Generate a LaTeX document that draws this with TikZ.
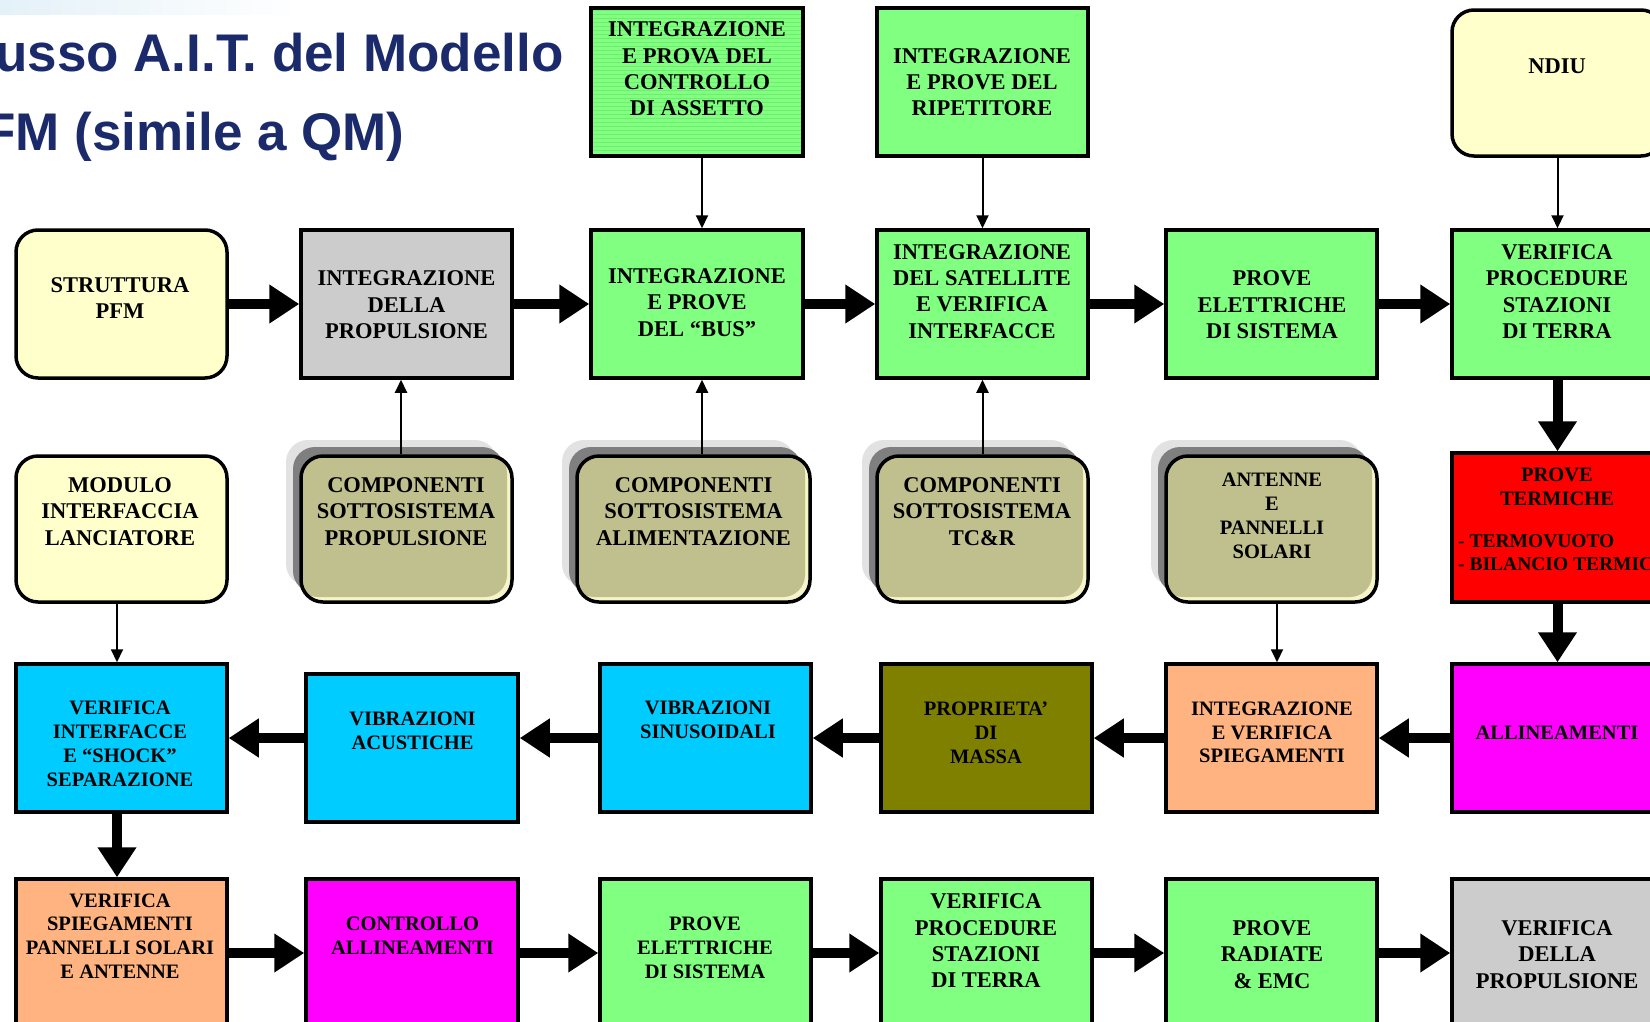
\documentclass[tikz,border=0pt]{standalone}
\usepackage{fontspec}
\setmainfont{Liberation Serif}
\newfontfamily\titlefont{Liberation Sans}
\usetikzlibrary{arrows.meta,shadows}
\definecolor{lyel}{HTML}{FFFFCC}
\definecolor{bevel}{HTML}{F6F4C8}
\definecolor{lgray}{HTML}{CCCCCC}
\definecolor{lgreen}{HTML}{80FF80}
\definecolor{stripe}{HTML}{70EC70}
\definecolor{khaki}{HTML}{C0BF8E}
\definecolor{cyanb}{HTML}{00CCFF}
\definecolor{olivb}{HTML}{808000}
\definecolor{peach}{HTML}{FFB380}
\definecolor{magb}{HTML}{FF00FF}
\definecolor{navy}{HTML}{1B2A6B}
\definecolor{shdark}{HTML}{7F7F7F}
\definecolor{shlight}{HTML}{E2E2E2}
\definecolor{haze}{HTML}{E4F1F8}
\begin{document}
\begin{tikzpicture}[x=1pt,y=-1pt,
  bx/.style={draw=black, line width=3.5pt, inner sep=0pt, minimum width=211pt, minimum height=148pt},
  rbx/.style={bx, rounded corners=22pt},
  cbx/.style={rbx, fill=khaki, minimum height=146pt,
     general shadow={fill=shlight, shadow xshift=-15pt, shadow yshift=16pt},
     general shadow={fill=shdark, shadow xshift=-8pt, shadow yshift=9pt},
     path picture={\fill[bevel] (path picture bounding box.south west) rectangle (path picture bounding box.north east);
       \fill[khaki, rounded corners=22pt] ([shift={(-5pt,5pt)}]path picture bounding box.south west) rectangle ([shift={(-5pt,5pt)}]path picture bounding box.north east);}},
  bigarr/.style={line width=10pt, -{Triangle[length=30pt,width=37pt]}},
  smallarr/.style={line width=2pt, -{Triangle[length=13pt,width=12pt]}},
  t1/.style={font=\bfseries\fontsize{22.5}{26.3}\selectfont, align=center, inner sep=0pt},
  t2/.style={font=\bfseries\fontsize{20.5}{23.8}\selectfont, align=center, inner sep=0pt},
  t3/.style={font=\bfseries\fontsize{19.5}{23}\selectfont, align=left, inner sep=0pt},
  ttl/.style={font=\titlefont\bfseries\fontsize{53}{60}\selectfont, text=navy, anchor=base west, inner sep=0pt}]
\useasboundingbox (0,0) rectangle (1650,1021);
\clip (0,0) rectangle (1650,1021);
\shade[left color=haze, right color=white] (0,0) rectangle (300,14);

% title
\node[ttl] (title1) at (-52,71) {Flusso A.I.T. del Modello};
\node[ttl] (title2) at (-52,150) {PFM (simile a QM)};

% ---------- top row
\node[bx, fill=lgreen, minimum width=212pt,
  path picture={\foreach \k in {2,6,...,150} \draw[stripe, line width=0.8pt]
     ([yshift=-\k pt]path picture bounding box.north west) -- ([yshift=-\k pt]path picture bounding box.north east);}]
  (tA) at (697,82) {};
\node[t1] (tAt) at (697,69) {INTEGRAZIONE\\E PROVA DEL\\CONTROLLO\\DI ASSETTO};
\node[bx, fill=lgreen] (tR) at (982.5,82) {};
\node[t1] (tRt) at (982,82) {INTEGRAZIONE\\E PROVE DEL\\RIPETITORE};
\node[rbx, fill=lyel, minimum height=146pt] (tN) at (1557.5,83) {};
\node[t1] (tNt) at (1557,66) {NDIU};

% ---------- row 1
\node[rbx, fill=lyel] (r1a) at (121.5,304) {};
\node[t1] (r1at) at (120,298) {STRUTTURA\\PFM};
\node[bx, fill=lgray] (r1b) at (406.5,304) {};
\node[t1] (r1bt) at (406.5,304.7) {INTEGRAZIONE\\DELLA\\PROPULSIONE};
\node[bx, fill=lgreen, minimum width=212pt] (r1c) at (697,304) {};
\node[t1] (r1ct) at (697,302.5) {INTEGRAZIONE\\E PROVE\\DEL “BUS”};
\node[bx, fill=lgreen] (r1d) at (982.5,304) {};
\node[t1] (r1dt) at (982,291.5) {INTEGRAZIONE\\DEL SATELLITE\\E VERIFICA\\INTERFACCE};
\node[bx, fill=lgreen] (r1e) at (1271.5,304) {};
\node[t1] (r1et) at (1272,304.7) {PROVE\\ELETTRICHE\\DI SISTEMA};
\node[bx, fill=lgreen] (r1f) at (1557.5,304) {};
\node[t1] (r1ft) at (1557,291.5) {VERIFICA\\PROCEDURE\\STAZIONI\\DI TERRA};

% ---------- row 2
\node[rbx, fill=lyel, minimum height=146pt] (r2a) at (121.5,529) {};
\node[t1] (r2at) at (120,511.4) {MODULO\\INTERFACCIA\\LANCIATORE};
\node[cbx] (r2b) at (406.5,529) {};
\node[t1] (r2bt) at (406,511.4) {COMPONENTI\\SOTTOSISTEMA\\PROPULSIONE};
\node[cbx, minimum width=233pt] (r2c) at (693.5,529) {};
\node[t1] (r2ct) at (693.5,511.4) {COMPONENTI\\SOTTOSISTEMA\\ALIMENTAZIONE};
\node[cbx] (r2d) at (982.5,529) {};
\node[t1] (r2dt) at (982,511.4) {COMPONENTI\\SOTTOSISTEMA\\TC\&R};
\node[cbx] (r2e) at (1271.5,529) {};
\node[t2] (r2et) at (1272,516) {ANTENNE\\E\\PANNELLI\\SOLARI};
\node[bx, fill=red, minimum height=149pt] (r2f) at (1557.5,527.5) {};
\node[t2] (r2ft) at (1557,486.7) {PROVE\\TERMICHE};
\node[t3, anchor=west] (r2fl) at (1458,552.5) {- TERMOVUOTO\\- BILANCIO TERMICO};

% ---------- row 3
\node[bx, fill=cyanb] (r3a) at (121.5,738) {};
\node[t2] (r3at) at (120,744) {VERIFICA\\INTERFACCE\\E “SHOCK”\\SEPARAZIONE};
\node[bx, fill=cyanb, minimum width=212pt] (r3b) at (412,748) {};
\node[t2] (r3bt) at (412.5,731) {VIBRAZIONI\\ACUSTICHE};
\node[bx, fill=cyanb] (r3c) at (705.5,738) {};
\node[t2] (r3ct) at (708,720) {VIBRAZIONI\\SINUSOIDALI};
\node[bx, fill=olivb] (r3d) at (986.5,738) {};
\node[t2] (r3dt) at (986,732.5) {PROPRIETA’\\DI\\MASSA};
\node[bx, fill=peach] (r3e) at (1271.5,738) {};
\node[t2] (r3et) at (1272,732.5) {INTEGRAZIONE\\E VERIFICA\\SPIEGAMENTI};
\node[bx, fill=magb] (r3f) at (1557.5,738) {};
\node[t2] (r3ft) at (1557,732.5) {ALLINEAMENTI};

% ---------- row 4
\node[bx, fill=peach] (r4a) at (121.5,953) {};
\node[t2] (r4at) at (120,936) {VERIFICA\\SPIEGAMENTI\\PANNELLI SOLARI\\E ANTENNE};
\node[bx, fill=magb, minimum width=212pt] (r4b) at (412,953) {};
\node[t2] (r4bt) at (412.5,936) {CONTROLLO\\ALLINEAMENTI};
\node[bx, fill=lgreen] (r4c) at (705.5,953) {};
\node[t2] (r4ct) at (705,947.6) {PROVE\\ELETTRICHE\\DI SISTEMA};
\node[bx, fill=lgreen] (r4d) at (986.5,953) {};
\node[t1] (r4dt) at (986,941) {VERIFICA\\PROCEDURE\\STAZIONI\\DI TERRA};
\node[bx, fill=lgreen] (r4e) at (1271.5,953) {};
\node[t1] (r4et) at (1272,954.5) {PROVE\\RADIATE\\\& EMC};
\node[bx, fill=lgray] (r4f) at (1557.5,953) {};
\node[t1] (r4ft) at (1557,954.5) {VERIFICA\\DELLA\\PROPULSIONE};

% ---------- thick arrows
\draw[bigarr] (r1a.east) -- (r1b.west);
\draw[bigarr] (r1b.east) -- (r1c.west);
\draw[bigarr] (r1c.east) -- (r1d.west);
\draw[bigarr] (r1d.east) -- (r1e.west);
\draw[bigarr] (r1e.east) -- (r1f.west);
\draw[bigarr] (r1f.south) -- (r2f.north);
\draw[bigarr] (r2f.south) -- (r3f.north);
\draw[bigarr] (r3f.west) -- (r3e.east);
\draw[bigarr] (r3e.west) -- (r3d.east);
\draw[bigarr] (r3d.west) -- (r3c.east);
\draw[bigarr] (r3c.west) -- (r3b.east |- r3c.west);
\draw[bigarr] (r3b.west |- r3a.east) -- (r3a.east);
\coordinate (vx) at ([xshift=-4.5pt]r3a.south);
\draw[bigarr] (vx) -- (vx |- r4a.north);
\draw[bigarr] (r4a.east) -- (r4b.west);
\draw[bigarr] (r4b.east) -- (r4c.west);
\draw[bigarr] (r4c.east) -- (r4d.west);
\draw[bigarr] (r4d.east) -- (r4e.west);
\draw[bigarr] (r4e.east) -- (r4f.west);

% ---------- thin arrows
\coordinate (ax) at ([xshift=5pt]r1c.south);
\draw[smallarr] (ax |- tA.south) -- (ax |- r1c.north);
\draw[smallarr] (tR.south) -- (r1d.north);
\draw[smallarr] (tN.south) -- (r1f.north);
\coordinate (bx1) at ([xshift=-5.5pt]r1b.south);
\draw[smallarr] (bx1 |- r2b.north) -- (bx1);
\draw[smallarr] (ax |- r2c.north) -- (ax);
\draw[smallarr] (r2d.north) -- (r1d.south);
\coordinate (ex) at ([xshift=5.5pt]r2e.south);
\draw[smallarr] (ex) -- (ex |- r3e.north);
\coordinate (mx) at ([xshift=-4.5pt]r2a.south);
\draw[smallarr] (mx) -- (mx |- r3a.north);
\end{tikzpicture}
\end{document}
